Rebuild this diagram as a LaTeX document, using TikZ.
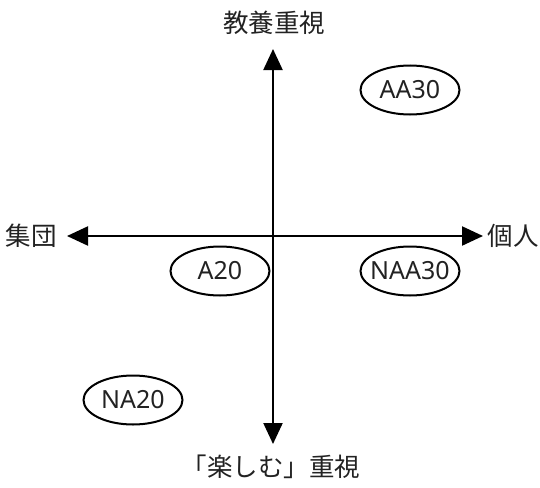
\documentclass[tikz,border=0pt]{standalone}
\usepackage{fontspec}
\setmainfont{Noto Sans CJK JP}
\newfontfamily\latinsans{Noto Sans}
\usetikzlibrary{arrows.meta,shapes.geometric}
\definecolor{txt}{HTML}{222222}
\tikzset{
  axis/.style={line width=2.2pt,-{Triangle[length=21pt,width=19pt]}},
  group/.style={draw,ellipse,line width=2pt,minimum width=99pt,minimum height=49pt,inner xsep=-10pt,inner ysep=0pt,text=txt,font=\latinsans\fontsize{25}{27}\selectfont},
  lab/.style={text=txt,font=\fontsize{25.5}{27}\selectfont,inner sep=0pt}
}
\begin{document}
\begin{tikzpicture}[x=1pt,y=-1pt]
\useasboundingbox (0,0) rectangle (540,487);
\coordinate (c) at (273,236);
\coordinate (top) at (273,49);
\coordinate (bot) at (273,444);
\coordinate (lft) at (67,236);
\coordinate (rgt) at (483,236);
\draw[axis] (c) -- (top);
\draw[axis] (c) -- (bot);
\draw[axis] (c) -- (lft);
\draw[axis] (c) -- (rgt);
\node[lab] (tl) at (274,23) {教養重視};
\node[lab] (bl) at (271,467) {「楽しむ」重視};
\node[lab] (ll) at (31,236) {集団};
\node[lab] (rl) at (513,236) {個人};
\node[group] (aa30) at (410,90) {AA30};
\node[group] (a20) at (220,271) {A20};
\node[group] (naa30) at (410,271) {NAA30};
\node[group] (na20) at (133,400) {NA20};
\end{tikzpicture}
\end{document}
